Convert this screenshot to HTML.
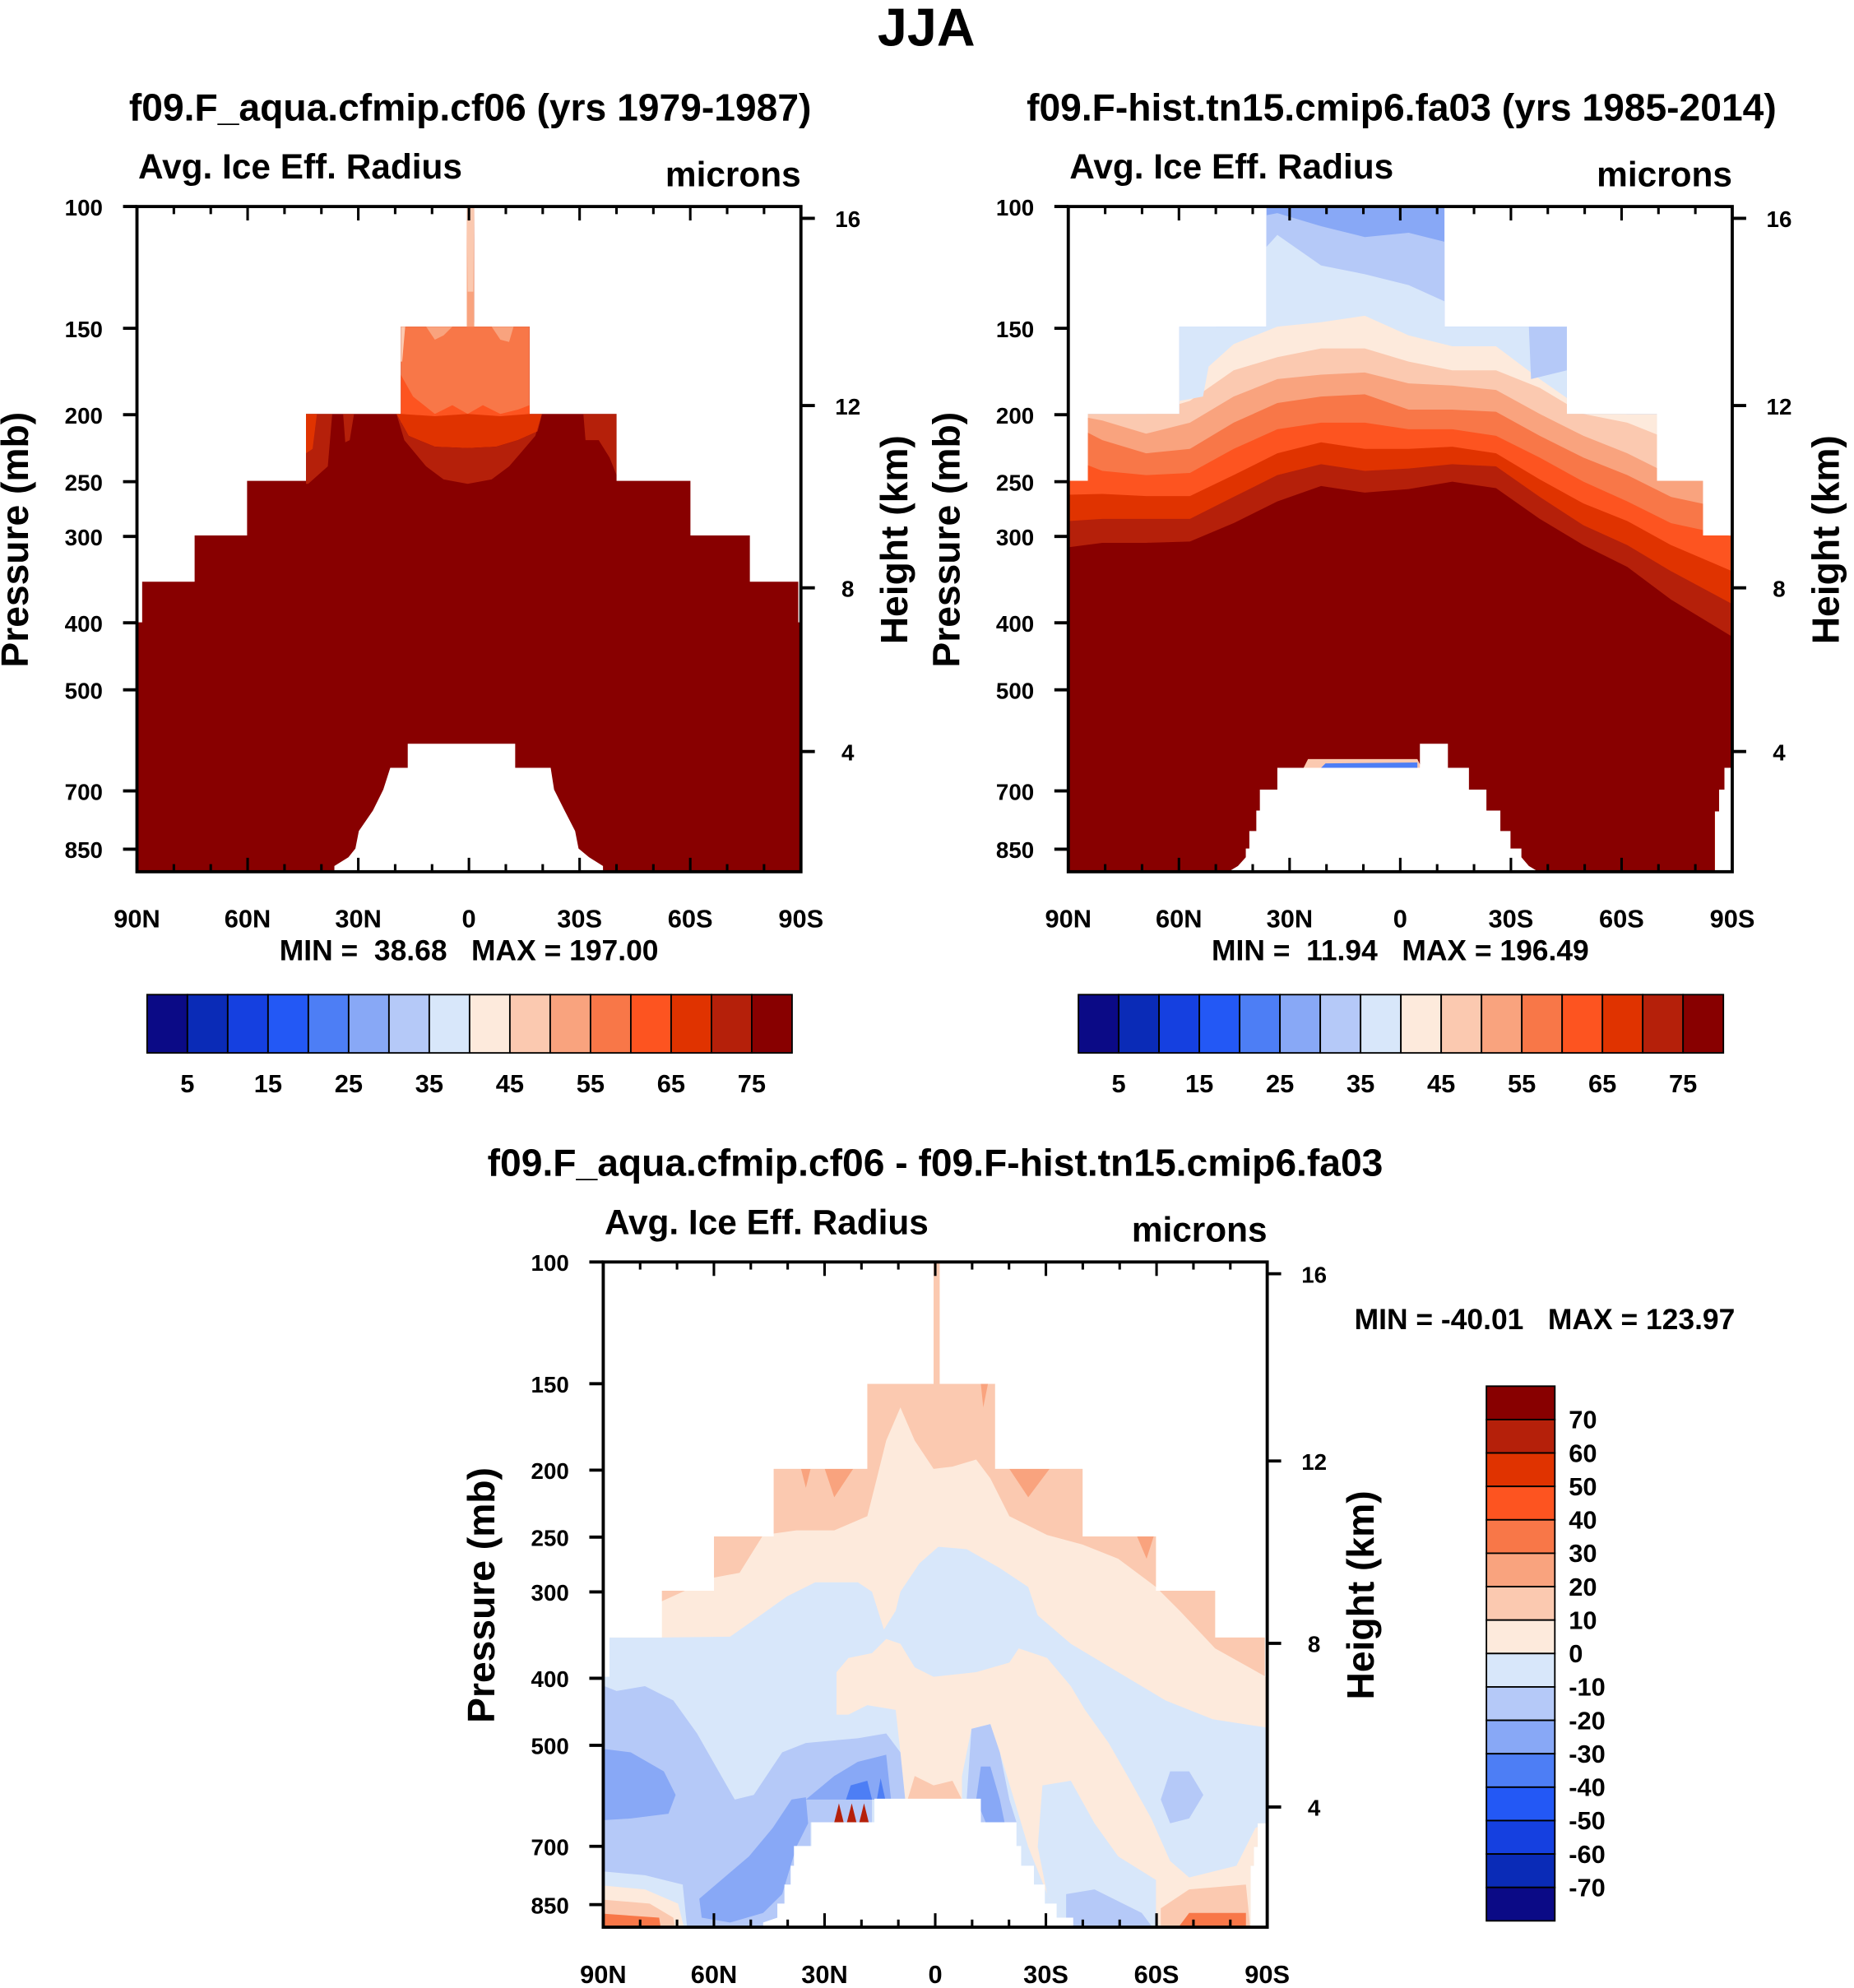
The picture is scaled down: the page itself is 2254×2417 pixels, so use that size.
<!DOCTYPE html>
<html><head><meta charset="utf-8"><title>JJA Avg. Ice Eff. Radius</title>
<style>
html,body{margin:0;padding:0;background:#fff;}
svg{display:block;}
text{font-family:"Liberation Sans",Arial,sans-serif;font-weight:bold;fill:#000;}
</style></head>
<body>
<svg id="fig" xmlns="http://www.w3.org/2000/svg" width="2254" height="2417" viewBox="0 0 1463 1569">
<text x="731" y="36" font-size="42" text-anchor="middle">JJA</text>
</svg>
<script>
// ---- data arrays ----
const colors16 = ["#0b0a86","#0a2bb7","#1540e0","#2358f5","#4d7ef5","#88a8f6","#b5c9f8","#d8e7fa","#fdeadc","#fbc9b0","#f9a37e","#f87748","#fd5420","#e03300","#b5200a","#880000"];
const cbLabelsAbs = ["5","15","25","35","45","55","65","75"];
const cbLabelsDiff = ["70","60","50","40","30","20","10","0","-10","-20","-30","-40","-50","-60","-70"];
const pTicks = [100,150,200,250,300,400,500,700,850];
const hTicks = [16,12,8,4];
const hTickP = [104,194,356,614];
const latTicks = [90,60,30,0,-30,-60,-90];
const latLabels = ["90N","60N","30N","0","30S","60S","90S"];
// digitized contour vertices, expressed on a normalized grid of the plot frame [L,R,T,B]
const F1 = [18,1538,25,1548];
const mask1Z = [[18,977],[30,977],[30,884],[150,884],[150,778],[270,778],[270,653],[405,653],[405,500],[622,500],[622,300],[773,300],[773,25],[790,25],[790,300],[917,300],[917,500],[1116,500],[1116,653],[1285,653],[1285,778],[1421,778],[1421,884],[1532,884],[1532,977],[1538,977],[1538,1560],[18,1560]];
const hole1Z = [[638,1255],[884,1255],[884,1310],[908,1310],[908,1255],[908,1310],[965,1310],[973,1360],[997,1408],[1021,1455],[1029,1495],[1053,1515],[1085,1535],[1085,1548],[470,1548],[470,1535],[502,1515],[518,1495],[526,1455],[558,1408],[582,1360],[598,1310],[638,1310]];
const p1Layers = [
 {c:"#f87748", pts:[[622,290],[917,290],[917,520],[622,520]]},
 {c:"#f9a37e", pts:[[680,300],[700,330],[720,320],[740,300]]},
 {c:"#f9a37e", pts:[[830,300],[850,330],[870,335],[880,300]]},
 {c:"#fbc9b0", pts:[[622,300],[632,300],[625,380],[622,380]]},
 {c:"#fd5420", pts:[[622,410],[650,460],[700,500],[740,480],[775,500],[810,480],[850,500],[890,490],[917,480],[917,520],[622,520]]},
 {c:"#e03300", pts:[[612,500],[622,500],[700,505],[775,500],[850,505],[917,500],[945,500],[935,540],[890,560],[840,575],[775,578],[700,575],[640,550]]},
 {c:"#b5200a", pts:[[612,500],[640,550],[700,575],[775,578],[840,575],[890,560],[935,540],[945,500],[930,550],[870,620],[830,650],[775,660],[720,650],[680,620],[630,560]]},
 {c:"#b5200a", pts:[[405,500],[465,500],[455,620],[410,660],[405,660]]},
 {c:"#e03300", pts:[[405,500],[430,500],[420,580],[405,590]]},
 {c:"#b5200a", pts:[[490,500],[515,500],[505,560],[495,565]]},
 {c:"#b5200a", pts:[[1040,500],[1116,500],[1116,640],[1100,600],[1075,560],[1045,560]]},
 {c:"#f9a37e", pts:[[773,25],[790,25],[790,300],[773,300]]},
 {c:"#fbc9b0", pts:[[773,25],[790,25],[788,220],[775,220]]}
];
const F2 = [22,1540,25,1548];
const mask2Z = [[22,653],[67,653],[67,500],[276,500],[276,300],[475,300],[475,25],[882,25],[882,300],[1162,300],[1162,500],[1368,500],[1368,653],[1473,653],[1473,778],[1540,778],[1540,1310],[1522,1310],[1522,1360],[1510,1360],[1510,1410],[1500,1410],[1500,1560],[22,1560]];
const hole2Z = [[500,1310],[826,1310],[826,1255],[890,1255],[890,1310],[938,1310],[938,1360],[978,1360],[978,1408],[1010,1408],[1010,1455],[1033,1455],[1033,1495],[1058,1495],[1058,1515],[1075,1535],[1097,1548],[388,1548],[410,1535],[428,1515],[428,1495],[436,1495],[436,1455],[452,1455],[452,1408],[460,1408],[460,1360],[500,1360]];
const p2Xs = [22,100,200,300,400,500,600,700,800,900,1000,1100,1200,1300,1400,1540];
const p2Colors = ["#b5c9f8","#d8e7fa","#fdeadc","#fbc9b0","#f9a37e","#f87748","#fd5420","#e03300","#b5200a","#880000"];
const p2Tops = [
 [60,60,60,60,60,40,70,95,85,110,140,140,140,140,140,140],
 [200,200,200,200,200,90,160,180,205,250,270,270,270,270,270,270],
 [300,300,300,430,340,300,290,275,320,345,345,420,490,500,500,500],
 [500,500,500,470,400,370,350,350,380,400,400,440,500,520,560,600],
 [500,515,545,520,460,420,410,405,430,435,445,500,550,590,640,660],
 [520,560,590,580,520,475,460,455,490,490,495,550,600,640,690,720],
 [600,630,640,635,580,535,520,520,535,535,550,600,655,700,750,780],
 [685,683,688,688,640,590,565,580,580,575,590,650,705,745,800,860],
 [745,740,740,740,690,640,615,630,625,615,620,690,755,800,860,935],
 [805,795,795,792,750,700,665,680,672,655,670,740,800,850,925,1010]
];
const F3 = [62,1465,62,1470];
const mask3Z = [[62,940],[75,940],[75,857],[186,857],[186,758],[296,758],[296,643],[422,643],[422,500],[620,500],[620,320],[760,320],[760,62],[773,62],[773,320],[890,320],[890,500],[1075,500],[1075,643],[1230,643],[1230,758],[1355,758],[1355,857],[1460,857],[1460,940],[1465,940],[1465,1250],[1445,1250],[1445,1300],[1437,1300],[1437,1340],[1430,1340],[1430,1480],[62,1480]];
const hole3Z = [[635,1198],[860,1198],[860,1248],[935,1248],[935,1298],[945,1298],[945,1340],[972,1340],[972,1380],[995,1380],[995,1420],[1020,1420],[1020,1450],[1055,1450],[1055,1470],[400,1470],[400,1460],[430,1450],[430,1420],[445,1420],[445,1380],[458,1380],[458,1340],[465,1340],[465,1298],[502,1298],[502,1248],[635,1248]];
const p3Layers = [
 {c:"#fdeadc", pts:[[40,40],[1480,40],[1480,1480],[40,1480]]},
 {c:"#fbc9b0", pts:[[40,40],[1480,40],[1480,950],[1355,880],[1280,800],[1230,750],[1150,690],[1075,660],[1000,640],[920,600],[880,520],[850,480],[800,495],[760,500],[720,440],[690,370],[660,440],[640,520],[620,600],[550,630],[470,630],[400,640],[350,720],[296,730],[186,780],[40,790]]},
 {c:"#f9a37e", pts:[[480,500],[490,540],[500,500]]},
 {c:"#f9a37e", pts:[[530,500],[550,560],[590,500]]},
 {c:"#f9a37e", pts:[[920,500],[960,560],[1005,500]]},
 {c:"#f9a37e", pts:[[860,320],[865,370],[875,320]]},
 {c:"#f9a37e", pts:[[1190,643],[1210,690],[1225,643]]},
 {c:"#d8e7fa", pts:[[40,857],[185,857],[330,855],[380,820],[450,770],[510,740],[600,740],[630,760],[655,840],[680,800],[690,760],[730,700],[770,665],[830,670],[900,710],[960,750],[980,810],[1050,870],[1150,930],[1250,990],[1350,1030],[1480,1050],[1480,1500],[40,1500]]},
 {c:"#fdeadc", pts:[[555,1020],[555,930],[580,900],[630,890],[660,860],[690,870],[720,920],[760,940],[850,930],[920,910],[940,880],[1000,900],[1050,960],[1080,1010],[1130,1080],[1170,1150],[1220,1240],[1260,1330],[1300,1365],[1400,1340],[1440,1260],[1480,1240],[1480,1480],[1050,1480],[1000,1400],[960,1300],[930,1200],[900,1100],[880,1040],[840,1050],[820,1150],[820,1200],[700,1200],[690,1100],[680,1010],[620,1000],[580,1020]]},
 {c:"#d8e7fa", pts:[[990,1170],[1050,1160],[1100,1250],[1150,1320],[1230,1370],[1230,1480],[1050,1480],[1000,1400],[980,1300]]},
 {c:"#b5c9f8", pts:[[40,950],[90,970],[150,960],[210,990],[260,1060],[300,1130],[340,1200],[380,1190],[440,1100],[490,1080],[600,1070],[660,1060],[690,1100],[700,1200],[630,1200],[630,1248],[500,1248],[500,1480],[240,1480],[230,1380],[150,1360],[40,1350]]},
 {c:"#88a8f6", pts:[[40,1090],[120,1100],[190,1140],[215,1190],[200,1230],[120,1240],[40,1245]]},
 {c:"#88a8f6", pts:[[265,1410],[300,1380],[370,1320],[420,1260],[460,1200],[490,1195],[495,1250],[470,1300],[440,1400],[400,1440],[330,1460],[270,1450]]},
 {c:"#88a8f6", pts:[[490,1200],[550,1150],[600,1120],[660,1105],[670,1200]]},
 {c:"#4d7ef5", pts:[[575,1200],[585,1170],[620,1160],[630,1200]]},
 {c:"#4d7ef5", pts:[[640,1200],[648,1155],[658,1200]]},
 {c:"#fbc9b0", pts:[[705,1200],[720,1150],[760,1170],[800,1160],[820,1200]]},
 {c:"#b5c9f8", pts:[[830,1200],[840,1050],[880,1040],[900,1100],[920,1200],[935,1248],[850,1248]]},
 {c:"#88a8f6", pts:[[850,1200],[860,1130],[880,1130],[900,1200],[910,1248],[870,1248]]},
 {c:"#b5200a", pts:[[550,1248],[560,1208],[570,1248]]},
 {c:"#b5200a", pts:[[577,1248],[587,1208],[597,1248]]},
 {c:"#b5200a", pts:[[603,1248],[613,1208],[623,1248]]},
 {c:"#b5c9f8", pts:[[1240,1200],[1260,1140],[1300,1140],[1330,1190],[1300,1240],[1260,1250]]},
 {c:"#b5c9f8", pts:[[1040,1400],[1100,1390],[1200,1440],[1230,1480],[1040,1480]]},
 {c:"#fbc9b0", pts:[[1240,1480],[1240,1430],[1300,1390],[1420,1380],[1430,1480]]},
 {c:"#f87748", pts:[[1270,1480],[1300,1440],[1420,1440],[1420,1480]]},
 {c:"#fdeadc", pts:[[40,1380],[150,1390],[220,1420],[235,1480],[40,1480]]},
 {c:"#fbc9b0", pts:[[40,1410],[160,1420],[210,1450],[215,1480],[40,1480]]},
 {c:"#f87748", pts:[[40,1440],[180,1450],[185,1480],[40,1480]]}
];
</script>
<script>
const svg = document.getElementById('fig');
const NS = "http://www.w3.org/2000/svg";
function mk(tag, attrs, parent){const e=document.createElementNS(NS,tag);for(const k in attrs)e.setAttribute(k,attrs[k]);(parent||svg).appendChild(e);return e;}
function txt(s,x,y,size,anchor,parent,extra){const t=mk('text',Object.assign({x:x,y:y,'font-size':size,'text-anchor':anchor||'start'},extra||{}),parent);t.textContent=s;return t;}
const PSCALE = 237;
function toLatP(F, pts){
  return pts.map(q=>{
    const fx=(q[0]-F[0])/(F[1]-F[0]), fy=(q[1]-F[2])/(F[3]-F[2]);
    return [90-fx*180, 100*Math.exp(fy*525/PSCALE)];
  });
}

function makePanel(P){
  const g = mk('g',{});
  
  
  const X = lat => P.x0 + (90-lat)/180*524;
  const Y = p => P.y0 + PSCALE*Math.log(p/100);
  const poly = (pts) => pts.map(q=>X(q[0]).toFixed(1)+','+Y(q[1]).toFixed(1)).join(' ');
  const cid = 'clip'+P.id;
  const cp = mk('clipPath',{id:cid},g);
  mk('polygon',{points:poly(P.mask)},cp);
  const cf = 'frameclip'+P.id;
  const cp2 = mk('clipPath',{id:cf},g);
  mk('rect',{x:P.x0,y:P.y0,width:524,height:525},cp2);
  const outer = mk('g',{'clip-path':'url(#'+cf+')'},g);
  const field = mk('g',{'clip-path':'url(#'+cid+')'},outer);
  
  
  P.drawField(field,X,Y,poly);
  const h = mk('polygon',{points:poly(P.hole),fill:'#fff'},outer);
  
  
  const fr = mk('rect',{x:P.x0,y:P.y0,width:524,height:525,fill:'none',stroke:'#000','stroke-width':2.5},g);
  
  
  pTicks.forEach(p=>{
    const y=Y(p);
    mk('line',{x1:P.x0-11,y1:y,x2:P.x0,y2:y,stroke:'#000','stroke-width':2.5},g);
    const t=txt(String(p),P.x0-27,y+7,18,'end',g);
    
    
  });
  hTicks.forEach((hh,i)=>{
    const y=Y(hTickP[i]);
    mk('line',{x1:P.x0+524,y1:y,x2:P.x0+535,y2:y,stroke:'#000','stroke-width':2.5},g);
    const t=txt(String(hh),P.x0+561,y+7,18,'middle',g);
    
    
  });
  for(let lat=90;lat>=-90;lat-=10){
    const x=X(lat);const major=(lat%30===0);const L=major?11:6;
    mk('line',{x1:x,y1:P.y0,x2:x,y2:P.y0+L,stroke:'#000','stroke-width':2},g);
    mk('line',{x1:x,y1:P.y0+525,x2:x,y2:P.y0+525-L,stroke:'#000','stroke-width':2},g);
  }
  latTicks.forEach((lat,i)=>{
    const t=txt(latLabels[i],X(lat),P.y0+569,20,'middle',g);
    
    
  });
  let t;
  t=txt(P.title,P.titleX,P.y0-68,30,'middle',g);  
  t=txt('Avg. Ice Eff. Radius',P.x0+1,P.y0-22,27.5,'start',g);  
  t=txt('microns',P.x0+524,P.y0-16,27.5,'end',g);  
  const ylx=P.x0-86, yly=P.y0+263;
  t=txt('Pressure (mb)',ylx,yly,30,'middle',g,{transform:`rotate(-90 ${ylx} ${yly})`});  
  const yrx=P.x0+608, yry=P.y0+263;
  t=txt('Height (km)',yrx,yry,30,'middle',g,{transform:`rotate(-90 ${yrx} ${yry})`});  
  if(P.minmax){t=txt(P.minmax[0],P.minmax[1],P.minmax[2],23,'middle',g);  }
}
const NB='\u00a0';

makePanel({id:1,name:'panel-model',x0:108,y0:163,titleX:371,title:'f09.F_aqua.cfmip.cf06 (yrs 1979-1987)',
  mask:toLatP(F1,mask1Z),hole:toLatP(F1,hole1Z),
  minmax:['MIN ='+NB+NB+'38.68'+NB+NB+' MAX = 197.00',370,758],
  drawField:(f,X,Y,poly)=>{
    mk('rect',{x:100,y:150,width:560,height:560,fill:'#880000'},f);
    p1Layers.forEach(L=>{
      const e=mk('polygon',{points:poly(toLatP(F1,L.pts)),fill:L.c},f);
      
      
    });
  }});

makePanel({id:2,name:'panel-observed',x0:843,y0:163,titleX:1106,title:'f09.F-hist.tn15.cmip6.fa03 (yrs 1985-2014)',
  mask:toLatP(F2,mask2Z),hole:toLatP(F2,hole2Z),
  minmax:['MIN ='+NB+NB+'11.94'+NB+NB+' MAX = 196.49',1105,758],
  drawField:(f,X,Y,poly)=>{
    mk('rect',{x:830,y:150,width:560,height:560,fill:'#88a8f6'},f);
    p2Colors.forEach((c,k)=>{
      const z=p2Xs.map((x,i)=>[x,p2Tops[k][i]]);
      z.unshift([0,p2Tops[k][0]]);
      z.push([1560,p2Tops[k][p2Tops[k].length-1]],[1560,1600],[0,1600]);
      const e=mk('polygon',{points:poly(toLatP(F2,z)),fill:c},f);
      
      
    });
    const e2=mk('polygon',{points:poly(toLatP(F2,[[276,300],[360,300],[330,460],[276,470]])),fill:'#d8e7fa'},f);
     
    const e3=mk('polygon',{points:poly(toLatP(F2,[[1075,300],[1162,300],[1162,400],[1080,420]])),fill:'#b5c9f8'},f);
     
    const e4=mk('polygon',{points:poly(toLatP(F2,[[560,1310],[570,1290],[820,1290],[830,1310]])),fill:'#fbc9b0'},f);
     
    const e5=mk('polygon',{points:poly(toLatP(F2,[[600,1310],[610,1300],[820,1298],[820,1310]])),fill:'#4d7ef5'},f);
     
  }});

makePanel({id:3,name:'panel-difference',x0:476,y0:996,titleX:738,title:'f09.F_aqua.cfmip.cf06 - f09.F-hist.tn15.cmip6.fa03',
  mask:toLatP(F3,mask3Z),hole:toLatP(F3,hole3Z),
  drawField:(f,X,Y,poly)=>{
    p3Layers.forEach(L=>{
      const e=mk('polygon',{points:poly(toLatP(F3,L.pts)),fill:L.c},f);
      
      
    });
  }});
{const t=txt('MIN = -40.01'+NB+NB+' MAX = 123.97',1219,1049,23,'middle');
}

function hbar(x0,name){
  const g=mk('g',{});
  
  
  const w=509/16;
  colors16.forEach((c,i)=>{
    const r=mk('rect',{x:x0+i*w,y:785,width:w,height:46,fill:c,stroke:'#000','stroke-width':1.2},g);
    
    
  });
  cbLabelsAbs.forEach((s,i)=>{
    const t=txt(s,x0+(2*i+1)*w,862,20,'middle',g);
    
    
  });
}
hbar(116,'colorbar-model');
hbar(851,'colorbar-observed');
{
  const g=mk('g',{});
  
  
  const h=422/16;
  colors16.slice().reverse().forEach((c,i)=>{
    const r=mk('rect',{x:1173,y:1094+i*h,width:54,height:h,fill:c,stroke:'#000','stroke-width':1.2},g);
    
    
  });
  cbLabelsDiff.forEach((s,i)=>{
    const t=txt(s,1238,1094+(i+1)*h+7,20,'start',g);
    
    
  });
}
</script>
</body></html>
